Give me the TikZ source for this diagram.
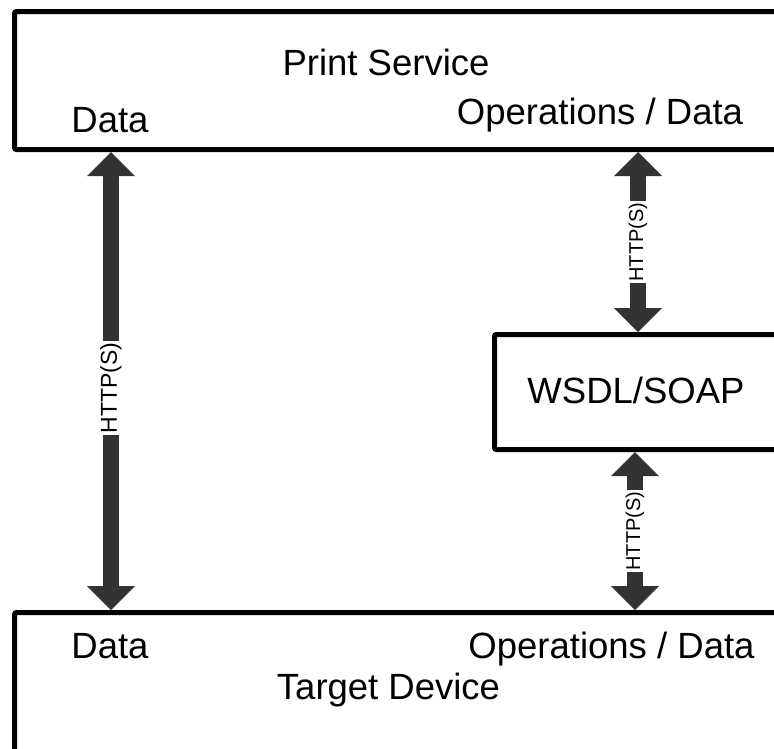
\documentclass[tikz,border=0pt]{standalone}
\usepackage{fontspec}
\setmainfont{Liberation Sans}
\usetikzlibrary{arrows.meta}
\definecolor{arrowgray}{HTML}{333333}
\tikzset{
	box/.style={draw, line width=5pt, rounded corners=2pt, anchor=north west, inner sep=0pt},
	lbl/.style={font=\fontsize{36.5}{40}\selectfont, anchor=base, inner sep=0pt},
	link/.style={arrowgray, line width=16pt, {Triangle[width=48pt,length=24pt,line width=0pt]}-{Triangle[width=48pt,length=24pt,line width=0pt]}},
	proto/.style={fill=white, text=black, rotate=90, inner sep=2pt, font=\fontsize{#1}{#1}\selectfont},
	proto/.default=20
}
\begin{document}
\begin{tikzpicture}[x=1pt, y=-1pt]
		%%%%% START %%%%%
		\path[use as bounding box, clip] (0,0) rectangle (774,748);
		
		\node[box, minimum width=790pt, minimum height=138pt] (service) at (12,9) {};
		\node[box, minimum width=300pt, minimum height=115pt] (wsdl) at (492,332) {};
		\node[box, minimum width=790pt, minimum height=200pt] (device) at (12,610) {};
		
		\node[lbl] (svcname) at (386,75) {Print Service};
		\node[lbl] (svcdata) at (110,132) {Data};
		\node[lbl] (svcops) at (600,124) {Operations / Data};
		\node[lbl] (wsdlname) at (636,403) {WSDL/SOAP};
		\node[lbl] (devdata) at (110,658) {Data};
		\node[lbl] (devops) at (611.5,658) {Operations / Data};
		\node[lbl] (devname) at (388.5,699) {Target Device};
		
		\coordinate (dataline) at (111,0);
		\coordinate (opsline) at (638,0);
		\coordinate (devline) at (635,0);
		
		\draw[link] (service.south -| dataline) -- (device.north -| dataline) node[pos=0.515, proto=23] {HTTP(S)};
		\draw[link] (service.south -| opsline) -- (wsdl.north -| opsline) node[midway, proto] {HTTP(S)};
		\draw[link] (wsdl.south -| devline) -- (device.north -| devline) node[midway, proto] {HTTP(S)};
		
		%%%%% END %%%%%
	\end{tikzpicture}
\end{document}
